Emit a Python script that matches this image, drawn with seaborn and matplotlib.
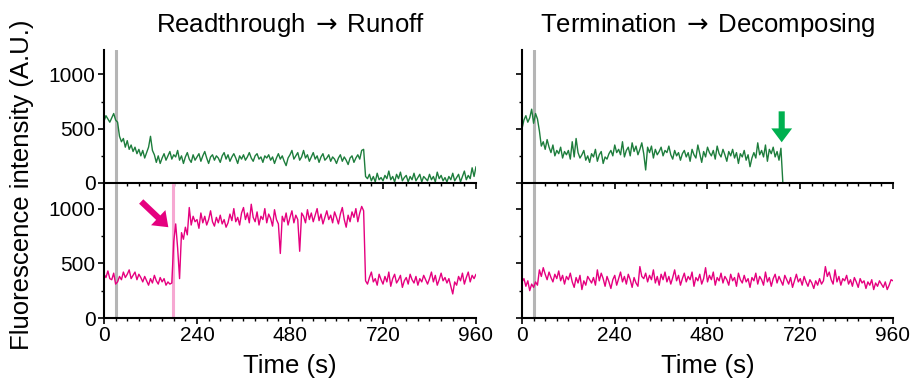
import numpy as np
import pandas as pd
import matplotlib
matplotlib.use('Agg')
import matplotlib.pyplot as plt
import seaborn as sns

# sampling interval of the traces (s)
DT = 5

# Readthrough -> Runoff, green channel (t = 0 .. 960 s)
rt_green = [
    570, 620, 590, 560, 600, 640, 580, 560, 430, 380, 410, 330,
    390, 310, 350, 290, 330, 270, 310, 250, 300, 230, 280, 330,
    430, 300, 260, 190, 250, 180, 230, 270, 210, 250, 290, 220,
    260, 240, 300, 210, 250, 180, 240, 280, 220, 190, 260, 210,
    240, 270, 200, 250, 290, 230, 180, 240, 260, 210, 250, 230,
    190, 250, 280, 220, 260, 200, 240, 270, 230, 180, 250, 220,
    260, 210, 240, 280, 230, 200, 250, 270, 220, 240, 190, 250,
    230, 260, 210, 240, 180, 230, 270, 220, 250, 200, 160, 230,
    260, 300, 220, 250, 280, 210, 240, 300, 230, 260, 200, 240,
    280, 220, 250, 190, 240, 270, 210, 230, 260, 200, 240, 220,
    180, 230, 260, 200, 240, 210, 170, 230, 250, 190, 230, 260,
    220, 300, 310, 60, 40, 80, 20, 60, 10, 90, 30, 50,
    20, 70, 40, 110, 30, 60, 10, 80, 40, 100, 20, 50,
    70, 10, 60, 30, 90, 20, 50, 80, 10, 60, 40, 20,
    80, 30, 60, 10, 100, 40, 70, 20, 50, 10, 60, 30,
    90, 20, 50, 80, 10, 60, 110, 30, 70, 40, 140, 60,
    150,
]

# Readthrough -> Runoff, magenta channel
rt_magenta = [
    400, 370, 430, 360, 350, 410, 310, 330, 380, 350, 420, 370,
    400, 440, 360, 390, 420, 350, 400, 370, 330, 380, 340, 300,
    360, 320, 390, 340, 310, 370, 330, 360, 300, 330, 310, 320,
    700, 860, 640, 360, 780, 720, 830, 760, 1010, 850, 930, 880,
    900, 820, 960, 870, 930, 850, 900, 980, 880, 840, 920, 870,
    940, 860, 900, 830, 870, 950, 890, 1000, 880, 920, 850, 960,
    1010, 900, 960, 870, 1040, 920, 880, 970, 850, 930, 900, 1000,
    870, 950, 910, 840, 990, 900, 860, 590, 930, 880, 960, 850,
    920, 980, 870, 940, 900, 610, 960, 930, 870, 990, 900, 960,
    880, 940, 1000, 890, 950, 860, 920, 980, 900, 940, 870, 970,
    920, 860, 950, 1010, 900, 830, 940, 880, 970, 920, 1000, 880,
    960, 1020, 980, 340, 310, 370, 420, 330, 360, 300, 400, 350,
    310, 380, 330, 420, 290, 360, 400, 320, 350, 390, 280, 340,
    370, 310, 400, 350, 320, 380, 300, 360, 330, 390, 350, 310,
    360, 420, 330, 390, 300, 350, 410, 340, 370, 320, 360, 290,
    220, 330, 300, 380, 340, 410, 310, 370, 420, 330, 390, 360,
    400,
]

# Termination -> Decomposing, green channel (ends at 675 s)
td_green = [
    500, 580, 620, 560, 600, 680, 550, 640, 590, 480, 340, 380,
    310, 400, 330, 280, 350, 250, 300, 270, 330, 230, 290, 260,
    300, 220, 380, 240, 410, 280, 230, 260, 300, 210, 250, 190,
    270, 240, 310, 200, 260, 290, 180, 240, 220, 270, 300, 250,
    350, 280, 310, 260, 380, 240, 300, 330, 250, 370, 290, 340,
    260, 310, 370, 270, 120, 330, 280, 340, 230, 310, 260, 290,
    330, 250, 300, 280, 340, 260, 220, 300, 250, 280, 210, 270,
    300, 240, 280, 200, 310, 260, 230, 350, 270, 190, 290, 240,
    330, 280, 250, 300, 220, 340, 270, 240, 310, 260, 200, 290,
    250, 310, 230, 280, 180, 270, 240, 300, 210, 260, 150, 230,
    280, 230, 370, 260, 300, 240, 350, 200, 310, 270, 330, 240,
    290, 210, 320, 0,
]

# Termination -> Decomposing, magenta channel
td_magenta = [
    330, 360, 290, 340, 250, 310, 280, 330, 300, 440, 380, 460,
    400, 350, 420, 370, 330, 400, 360, 430, 340, 390, 310, 380,
    350, 410, 330, 280, 370, 320, 390, 260, 340, 300, 380, 350,
    320, 370, 300, 440, 340, 410, 360, 290, 380, 330, 270, 350,
    390, 300, 360, 420, 330, 380, 310, 400, 350, 280, 370, 320,
    290, 470, 380, 360, 410, 330, 390, 350, 440, 320, 380, 300,
    400, 350, 420, 330, 380, 310, 370, 440, 340, 390, 300, 360,
    410, 330, 380, 350, 420, 290, 370, 340, 400, 310, 360, 460,
    330, 390, 350, 420, 300, 370, 340, 410, 320, 380, 350, 300,
    400, 340, 370, 290, 410, 350, 320, 390, 330, 360, 280, 370,
    340, 410, 310, 380, 350, 300, 420, 330, 370, 290, 360, 400,
    320, 380, 340, 300, 390, 350, 310, 370, 280, 340, 400, 330,
    360, 300, 380, 330, 290, 350, 320, 270, 340, 300, 360, 310,
    340, 470, 380, 420, 350, 310, 440, 330, 380, 300, 360, 340,
    390, 310, 350, 290, 370, 330, 280, 360, 320, 340, 270, 330,
    300, 350, 260, 320, 290, 340, 310, 280, 330, 260, 300, 350,
    340,
]

titles = [("Readthrough", "Runoff"), ("Termination", "Decomposing")]
x_ticks = [0, 240, 480, 720, 960]
y_ticks = [0, 500, 1000]
gray_t = 30       # gray marker time (s)
pink_t = 177      # pink marker time (s), readthrough bottom panel

GREEN = "#1d7d3c"
MAGENTA = "#e5007f"
GRAY = "#b5b5b5"
PINK = "#f6a8d2"
ARROW_GREEN = "#00b04f"

sns.set_style("ticks")
plt.rcParams['font.family'] = ['Liberation Sans', 'DejaVu Sans']
plt.rcParams['mathtext.fontset'] = 'dejavusans'
plt.rcParams['text.color'] = 'black'


def trace_df(values):
    return pd.DataFrame({"t": np.arange(len(values)) * DT, "v": values})


W, H = 912, 381
fig = plt.figure(figsize=(W / 100, H / 100), dpi=100)

col_x = [104, 522]
col_w = [372, 371]
row_y = [(50, 183), (184, 318)]

traces = [[rt_green, rt_magenta], [td_green, td_magenta]]
colors = [GREEN, MAGENTA]
axes = {}

for c in range(2):
    for r in range(2):
        top, bot = row_y[r]
        ax = fig.add_axes([col_x[c] / W, 1 - bot / H, col_w[c] / W, (bot - top) / H])
        axes[(c, r)] = ax
        ax.axvline(gray_t, color=GRAY, lw=2.2, zorder=1)
        if c == 0 and r == 1:
            ax.axvline(pink_t, color=PINK, lw=2.2, zorder=1)
        sns.lineplot(data=trace_df(traces[c][r]), x="t", y="v", ax=ax,
                     color=colors[r], lw=1.0, estimator=None, zorder=2)
        ax.set_xlim(0, 960)
        ax.set_ylim(0, 1225)
        ax.set_xticks(x_ticks)
        ax.set_xticks(np.arange(0, 961, 30), minor=True)
        ax.set_yticks(y_ticks)
        ax.set_yticks([250, 750], minor=True)
        ax.set_xlabel("")
        ax.set_ylabel("")
        for side in ["top", "right"]:
            ax.spines[side].set_visible(False)
        for side in ["left", "bottom"]:
            ax.spines[side].set_linewidth(1.5)
            ax.spines[side].set_color("black")
        ax.tick_params(which="major", direction="out", length=4, width=1.2,
                       labelsize=15, pad=2, colors="black")
        ax.tick_params(which="minor", direction="out", length=2.5, width=1.0,
                       colors="black")
        if r == 0:
            ax.tick_params(labelbottom=False)
        if c == 1:
            ax.tick_params(labelleft=False)
        ax.patch.set_alpha(0)

# arrows
arrow_style = "simple,head_length=0.5,head_width=0.75,tail_width=0.22"
axes[(0, 1)].annotate("", xy=(166, 830), xytext=(96, 1065),
                      arrowprops=dict(arrowstyle=arrow_style, color=MAGENTA,
                                      lw=0, mutation_scale=20, shrinkA=0, shrinkB=0))
axes[(1, 0)].annotate("", xy=(672, 375), xytext=(672, 660),
                      arrowprops=dict(arrowstyle=arrow_style, color=ARROW_GREEN,
                                      lw=0, mutation_scale=20, shrinkA=0, shrinkB=0))

for c in range(2):
    xc = (col_x[c] + col_w[c] / 2) / W
    left_word, right_word = titles[c]
    fig.text(xc, 1 - 25 / H, left_word + "\u2009$\\rightarrow$\u2009" + right_word,
             ha="center", va="center", fontsize=18.5, color="black")
    fig.text(xc, 1 - 366 / H, "Time (s)", ha="center", va="center",
             fontsize=18.5, color="black")

fig.text(22 / W, 1 - 185 / H, "Fluorescence intensity (A.U.)", rotation=90,
         ha="center", va="center", fontsize=18.5, color="black")

plt.savefig("out.png", dpi=100)
plt.close()
